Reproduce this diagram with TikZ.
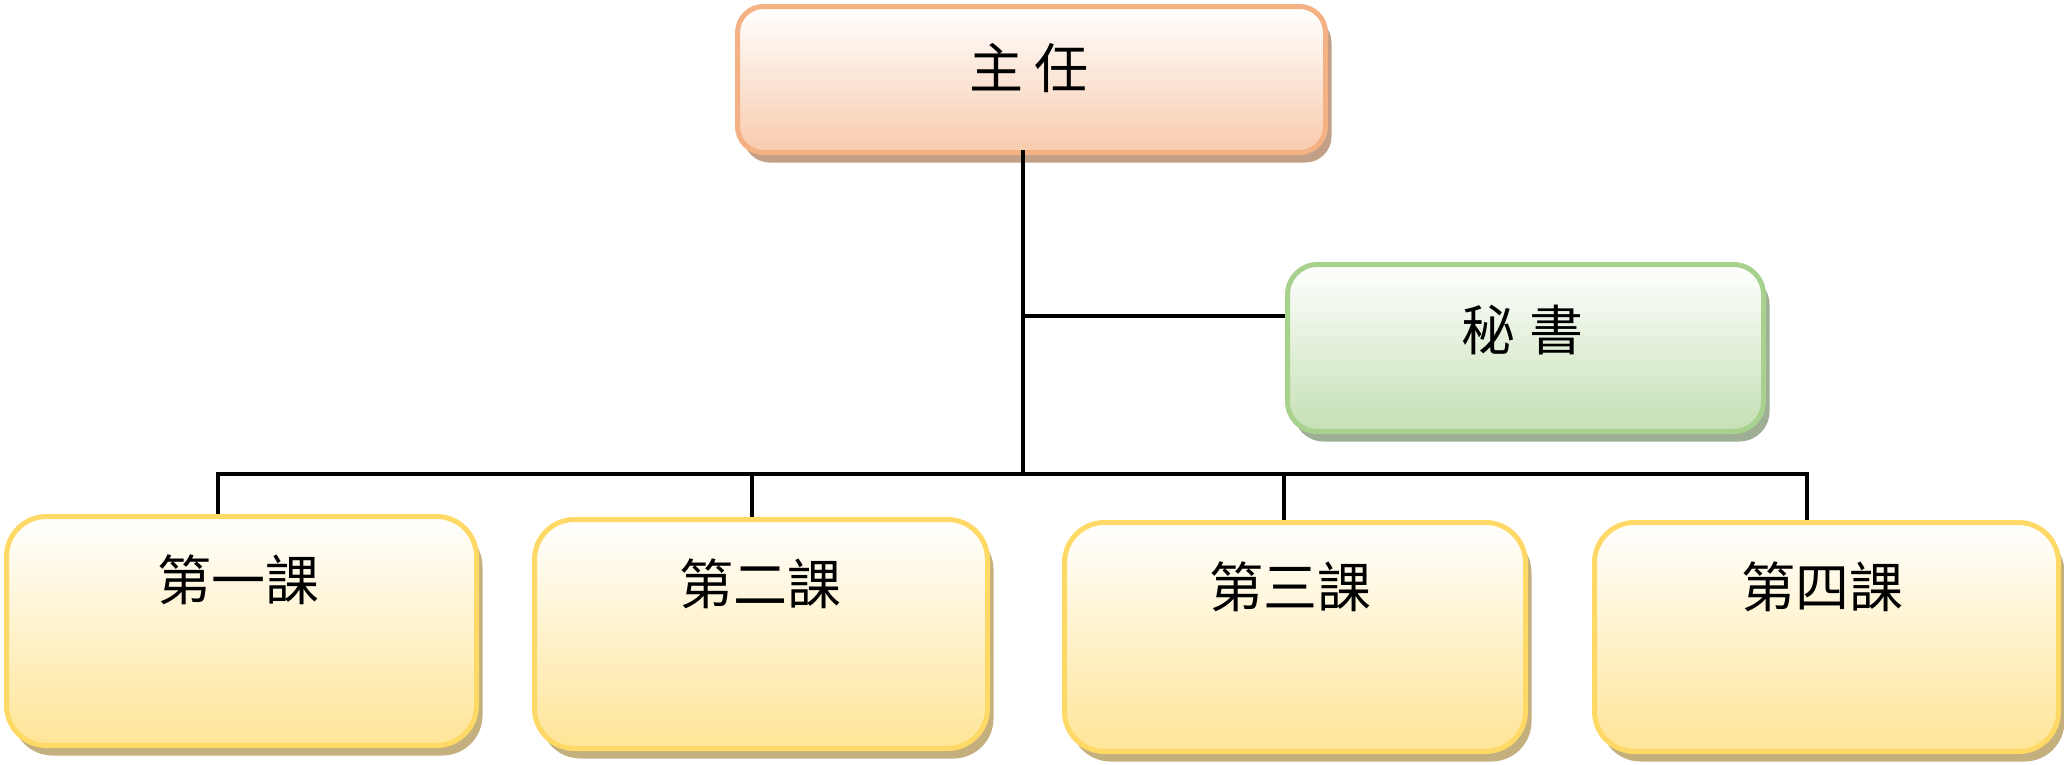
\documentclass[tikz,border=0pt]{standalone}
\usepackage{fontspec}
\newfontfamily\cjk{Noto Sans CJK TC}
\usetikzlibrary{shadows}
\definecolor{orgB}{HTML}{F4B183}
\definecolor{orgF}{HTML}{F8CBAD}
\definecolor{orgS}{HTML}{C29F87}
\definecolor{grnB}{HTML}{A9D18E}
\definecolor{grnF}{HTML}{C5E0B4}
\definecolor{grnS}{HTML}{9FAF95}
\definecolor{ylwB}{HTML}{FFD966}
\definecolor{ylwF}{HTML}{FFE597}
\definecolor{ylwS}{HTML}{C4B07E}
\tikzset{
  box/.style={draw=#1B, line width=5pt, anchor=north west, inner sep=0pt,
    top color=white, middle color=#1F!18!white, bottom color=#1F,
    drop shadow={shadow xshift=6pt, shadow yshift=-10pt, fill=#1S, opacity=1}},
  lbl/.style={font=\cjk\fontsize{54}{60}\selectfont, inner sep=0pt, anchor=center},
  conn/.style={line width=3.4pt, black},
}
\begin{document}
\begin{tikzpicture}[x=1pt,y=-1pt]
\useasboundingbox (0,0) rectangle (2064,764);
% boxes
\node[box=org, rounded corners=26pt, minimum width=588pt, minimum height=146pt] (top) at (735,4) {};
\node[box=grn, rounded corners=30pt, minimum width=476pt, minimum height=167pt] (sec) at (1285,262) {};
\node[box=ylw, rounded corners=40pt, minimum width=470pt, minimum height=229pt] (b1) at (4,514) {};
\node[box=ylw, rounded corners=40pt, minimum width=453pt, minimum height=229pt] (b2) at (532,517) {};
\node[box=ylw, rounded corners=40pt, minimum width=461pt, minimum height=229pt] (b3) at (1062,520) {};
\node[box=ylw, rounded corners=40pt, minimum width=464pt, minimum height=229pt] (b4) at (1592,520) {};
% labels
\node[lbl] (ttop) at (1029,68) {主\hspace{12pt}任};
\node[lbl] (tsec) at (1522,330) {秘\hspace{14pt}書};
\node[lbl] (t1) at (238,580) {第一課};
\node[lbl] (t2) at (760,584) {第二課};
\node[lbl] (t3) at (1290,587) {第三課};
\node[lbl] (t4) at (1822,587) {第四課};
% connectors
\coordinate (trunk) at (1023,150);
\coordinate (bus) at (1023,474);
\coordinate (secj) at (1023,316);
\coordinate (d1) at (218,474);
\coordinate (d2) at (752,474);
\coordinate (d3) at (1284,474);
\coordinate (d4) at (1807,474);
\draw[conn] (trunk) -- (bus);
\draw[conn] (secj) -- (secj -| sec.west);
\draw[conn, line cap=rect] (d1) -- (d4);
\draw[conn] (d1) -- (d1 |- b1.north);
\draw[conn] (d2) -- (d2 |- b2.north);
\draw[conn] (d3) -- (d3 |- b3.north);
\draw[conn] (d4) -- (d4 |- b4.north);
\end{tikzpicture}
\end{document}
